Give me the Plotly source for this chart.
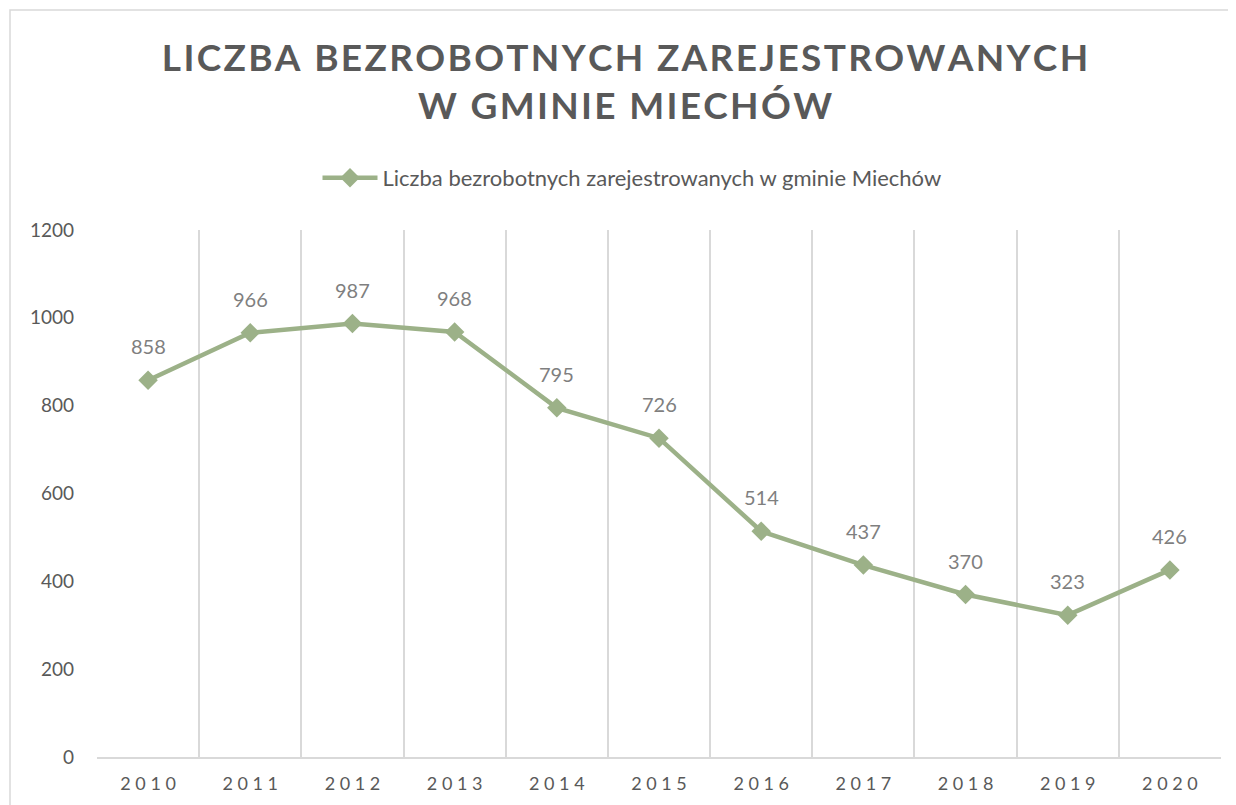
import plotly.graph_objects as go

# dane
lata = ["2010", "2011", "2012", "2013", "2014", "2015", "2016", "2017", "2018", "2019", "2020"]
bezrobotni = [858, 966, 987, 968, 795, 726, 514, 437, 370, 323, 426]
y_ticks = [0, 200, 400, 600, 800, 1000, 1200]

# rozstrzelone napisy (jak w Excelu)
def rozstrzel(s, sep):
    return sep.join(s)

etykiety_x = [rozstrzel(r, " ") for r in lata]
tytul = "<br>".join(rozstrzel(w, "\u200a") for w in
                    ["LICZBA BEZROBOTNYCH ZAREJESTROWANYCH", "W GMINIE MIECHÓW"])

nazwa = "Liczba bezrobotnych zarejestrowanych w gminie Miechów"
kolor = "#9CB188"
szary = "#595959"

fig = go.Figure()
fig.add_trace(go.Scatter(
    x=lata, y=bezrobotni, mode="lines+markers", name=nazwa,
    line=dict(color=kolor, width=4.5),
    marker=dict(symbol="diamond", size=15, color=kolor),
    cliponaxis=False,
))

# etykiety danych nad punktami (x = numer kategorii)
for i, v in enumerate(bezrobotni):
    fig.add_annotation(x=i, y=v, xref="x", yref="y", text=str(v), showarrow=False,
                       yshift=34, font=dict(size=20, color="#7F7F7F", family="Lato"))

# strona ma 8px marginesu w przegladarce
W, H = 1236, 805
L, R, T, B = 89, 23, 222, 56
pw, ph = W - L - R, H - T - B

fig.update_layout(
    width=W, height=H,
    margin=dict(l=L, r=R, t=T, b=B),
    paper_bgcolor="white", plot_bgcolor="white",
    font=dict(family="Lato", color=szary),
    title=dict(
        text=tytul,
        x=(W / 2 - 1) / W, xanchor="center", y=1 - 63 / H, yanchor="middle",
        font=dict(family="Lato", size=37, color=szary, weight="bold"),
    ),
    legend=dict(
        orientation="h", x=(632 - 8 - L) / pw, xanchor="center",
        y=1 + (T - 170) / ph, yanchor="middle",
        font=dict(size=22, color=szary), itemwidth=55,
    ),
    showlegend=True,
    xaxis=dict(
        type="category", tickson="boundaries", range=[-0.5, 10.5],
        showgrid=True, gridcolor="#D9D9D9", gridwidth=1.5,
        showline=True, linecolor="#D9D9D9", linewidth=1.5,
        ticks="", tickvals=lata, ticktext=etykiety_x,
        tickfont=dict(size=18, color=szary), ticklabelstandoff=10,
    ),
    yaxis=dict(
        range=[0, 1200], tickvals=y_ticks, showgrid=False, zeroline=False,
        showline=False, ticks="", tickfont=dict(size=19, color=szary),
        ticklabelstandoff=22,
    ),
    shapes=[dict(
        type="rect", xref="paper", yref="paper", layer="below",
        x0=(2 - L) / pw, x1=(W + 20 - L) / pw,
        y0=-(B + 20) / ph, y1=1 + (T - 2) / ph,
        line=dict(color="#D9D9D9", width=1.5), fillcolor="rgba(0,0,0,0)",
    )],
)

fig.write_html("out.html")
